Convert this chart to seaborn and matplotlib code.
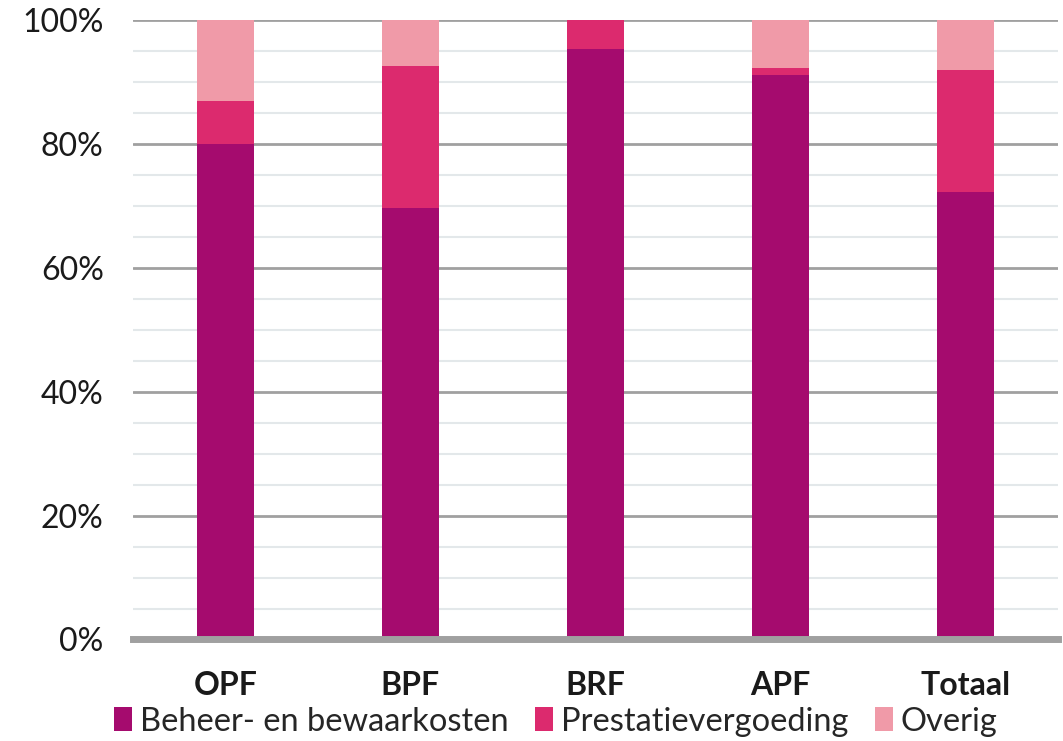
import matplotlib
matplotlib.use("Agg")
import matplotlib.pyplot as plt
import seaborn as sns
import pandas as pd
import numpy as np
from matplotlib.ticker import MultipleLocator, PercentFormatter
from matplotlib.patches import Patch

categories = ["OPF", "BPF", "BRF", "APF", "Totaal"]
beheer = [80.0, 69.7, 95.3, 91.2, 72.2]
prestatie = [6.9, 22.9, 4.7, 1.1, 19.8]
overig = [13.1, 7.4, 0.0, 7.7, 8.0]
series_names = ["Beheer- en bewaarkosten", "Prestatievergoeding", "Overig"]
colors = ["#A50B6E", "#DC2A6E", "#F09AA8"]

sns.set_theme(style="white")
plt.rcParams["font.family"] = ["Lato", "DejaVu Sans"]

fig = plt.figure(figsize=(10.63, 7.41), dpi=100)
ax = fig.add_axes([0.125, 0.137, 0.87, 0.836])

c1 = np.array(beheer)
c2 = c1 + np.array(prestatie)
c3 = c2 + np.array(overig)
stacks = [c3, c2, c1]
for vals, col in zip(stacks, colors[::-1]):
    df = pd.DataFrame({"cat": categories, "val": vals})
    sns.barplot(data=df, x="cat", y="val", color=col, width=0.31,
                saturation=1, ax=ax, edgecolor="none", zorder=3)

ax.set_ylim(0, 100)
ax.set_xlim(-0.5, 4.5)
ax.yaxis.set_major_locator(MultipleLocator(20))
ax.yaxis.set_minor_locator(MultipleLocator(5))
ax.yaxis.set_major_formatter(PercentFormatter(decimals=0))
ax.grid(axis="y", which="major", color="#A0A0A0", linewidth=2, zorder=1)
ax.grid(axis="y", which="minor", color="#E3E8EA", linewidth=1.5, zorder=1)
ax.set_axisbelow(True)
for s in ["top", "right", "left"]:
    ax.spines[s].set_visible(False)
ax.spines["bottom"].set_color("#A0A0A0")
ax.spines["bottom"].set_linewidth(5)
ax.spines["bottom"].set_zorder(4)
ax.set_xlabel("")
ax.set_ylabel("")
ax.tick_params(axis="y", which="both", length=0, labelsize=23, pad=21, colors="#1a1a1a")
ax.tick_params(axis="x", length=0, labelsize=23, pad=23, colors="#1a1a1a")
for lbl in ax.get_xticklabels():
    lbl.set_fontweight("bold")

handles = [Patch(facecolor=c, edgecolor="none") for c in colors]
fig.legend(handles, series_names, loc="lower center", bbox_to_anchor=(0.523, -0.034),
           ncol=3, frameon=False, fontsize=23.5, handlelength=0.55, handleheight=0.75,
           handletextpad=0.25, columnspacing=0.8)

fig.savefig("out.png", dpi=100)
